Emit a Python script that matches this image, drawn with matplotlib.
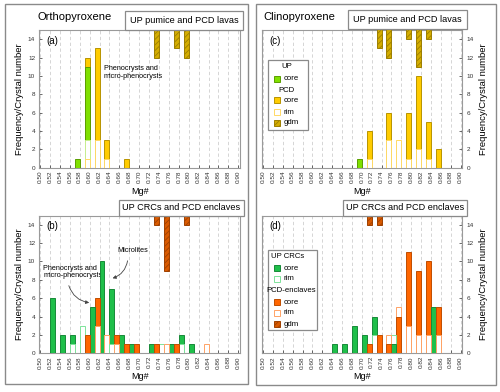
import matplotlib
matplotlib.use('Agg')
import matplotlib.pyplot as plt
from matplotlib.patches import Rectangle

plt.rcParams['font.family'] = ['Liberation Sans', 'DejaVu Sans']
plt.rcParams['hatch.linewidth'] = 0.6

# ---------------- data ----------------
bins = [0.50, 0.52, 0.54, 0.56, 0.58, 0.60, 0.62, 0.64, 0.66, 0.68,
        0.70, 0.72, 0.74, 0.76, 0.78, 0.80, 0.82, 0.84, 0.86, 0.88]
xtick_vals = [0.50, 0.52, 0.54, 0.56, 0.58, 0.60, 0.62, 0.64, 0.66, 0.68, 0.70,
              0.72, 0.74, 0.76, 0.78, 0.80, 0.82, 0.84, 0.86, 0.88, 0.90]
xtick_labels = ['0.50', '0.52', '0.54', '0.56', '0.58', '0.60', '0.62', '0.64', '0.66',
                '0.68', '0.70', '0.72', '0.74', '0.76', '0.78', '0.80', '0.82', '0.84',
                '0.86', '0.88', '0.90']
ytick_vals = [0, 2, 4, 6, 8, 10, 12, 14]

# (a) Orthopyroxene, UP pumice and PCD lavas
a_up_core  = [0, 0, 0, 1, 11, 0, 0, 0, 0, 0, 0, 0, 0, 0, 0, 0, 0, 0, 0, 0]
a_up_rim   = [0, 0, 0, 0, 3, 0, 0, 0, 0, 0, 0, 0, 0, 0, 0, 0, 0, 0, 0, 0]
a_pcd_core = [0, 0, 0, 0, 12, 13, 3, 0, 1, 0, 0, 0, 0, 0, 0, 0, 0, 0, 0, 0]
a_pcd_rim  = [0, 0, 0, 0, 1, 3, 1, 0, 0, 0, 0, 0, 0, 0, 0, 0, 0, 0, 0, 0]
a_pcd_gdm  = [0, 0, 0, 0, 0, 0, 0, 0, 0, 0, 0, 3, 0, 2, 3, 0, 0, 0, 0, 0]

# (c) Clinopyroxene, UP pumice and PCD lavas
c_up_core  = [0, 0, 0, 0, 0, 0, 0, 0, 0, 1, 0, 0, 0, 0, 0, 0, 0, 0, 0, 0]
c_pcd_core = [0, 0, 0, 0, 0, 0, 0, 0, 0, 0, 4, 0, 6, 0, 6, 10, 5, 2, 0, 0]
c_pcd_rim  = [0, 0, 0, 0, 0, 0, 0, 0, 0, 0, 1, 0, 3, 3, 1, 2, 1, 0, 0, 0]
c_pcd_gdm  = [0, 0, 0, 0, 0, 0, 0, 0, 0, 0, 0, 2, 3, 0, 1, 4, 1, 0, 0, 0]

# (b) Orthopyroxene, UP CRCs and PCD enclaves
b_up_core  = [0, 6, 2, 2, 0, 5, 10, 7, 2, 1, 0, 1, 0, 1, 2, 1, 0, 0, 0, 0]
b_up_rim   = [0, 0, 0, 1, 3, 0, 0, 1, 0, 0, 0, 0, 1, 0, 1, 0, 0, 0, 0, 0]
b_pcd_core = [0, 0, 0, 0, 2, 6, 0, 2, 1, 1, 0, 1, 0, 1, 0, 0, 0, 0, 0, 0]
b_pcd_rim  = [0, 0, 0, 0, 0, 3, 2, 1, 0, 0, 0, 0, 1, 0, 0, 0, 1, 0, 0, 0]
b_pcd_gdm  = [0, 0, 0, 0, 0, 0, 0, 0, 0, 0, 0, 1, 6, 0, 1, 0, 0, 0, 0, 0]

# (d) Clinopyroxene, UP CRCs and PCD enclaves
d_up_core  = [0, 0, 0, 0, 0, 0, 0, 1, 1, 3, 2, 4, 0, 1, 0, 0, 0, 5, 0, 0]
d_up_rim   = [0, 0, 0, 0, 0, 0, 0, 0, 0, 0, 0, 2, 0, 2, 0, 0, 0, 0, 0, 0]
d_pcd_core = [0, 0, 0, 0, 0, 0, 0, 0, 0, 0, 1, 2, 1, 4, 11, 9, 10, 5, 0, 0]
d_pcd_rim  = [0, 0, 0, 0, 0, 0, 0, 0, 0, 0, 0, 0, 2, 5, 3, 2, 2, 2, 0, 0]
d_pcd_gdm  = [0, 0, 0, 0, 0, 0, 0, 0, 0, 0, 1, 1, 0, 0, 0, 0, 0, 0, 0, 0]

# ---------------- styles ----------------
LIME = '#80e000'
GOLD = '#ffcc00'
GOLD_RIM = '#ffd966'
GOLD_GDM = '#d4ad00'
GREEN = '#1fbf4a'
GREEN_RIM = '#7ee39a'
ORANGE = '#ff6600'
ORANGE_RIM = '#ffa366'
ORANGE_GDM = '#d95a00'
YMAX = 15
W, H = 500, 392

fig = plt.figure(figsize=(5.0, 3.92), dpi=100)


def fx(px):
    return px / W


def fy(py):
    return 1 - py / H


def add_axes(x0, x1, ytop, ybot):
    return fig.add_axes([fx(x0), fy(ybot), fx(x1) - fx(x0), fy(ytop) - fy(ybot)])


def draw(ax, offset, vals, face, edge, hatch=None):
    xs = [b + offset for b, v in zip(bins, vals) if v > 0]
    vs = [v for v in vals if v > 0]
    if not xs:
        return
    bars = ax.bar(xs, vs, width=0.01, color=face, edgecolor=edge, linewidth=0.7,
                  hatch=hatch)
    for p, v in zip(bars, vs):
        p.set_zorder(3 + (20 - v) * 0.01)


def draw_gdm(ax, offset, vals, face, edge):
    xs = [b + offset for b, v in zip(bins, vals) if v > 0]
    vs = [v for v in vals if v > 0]
    bars = ax.bar(xs, [v + 1 for v in vs], bottom=[YMAX - v for v in vs], width=0.01,
                  color=face, edgecolor=edge, linewidth=0.7, hatch='//////')
    for p in bars:
        p.set_zorder(3)


def style(ax, right=False):
    ax.set_xlim(0.4985, 0.9035)
    ax.set_ylim(0, YMAX)
    ax.set_xticks(xtick_vals)
    ax.set_xticklabels(xtick_labels, rotation=90, fontsize=4.6)
    ax.set_yticks(ytick_vals)
    ax.tick_params(axis='y', labelsize=4.6, direction='in', length=2, width=0.5,
                   colors='#333333', pad=3)
    ax.tick_params(axis='x', direction='in', length=2, width=0.5, colors='#333333', pad=2)
    ax.grid(axis='x', linestyle=(0, (4, 3)), color='#cfcfcf', linewidth=0.6)
    ax.set_axisbelow(True)
    for s in ax.spines.values():
        s.set_color('#9a9a9a')
        s.set_linewidth(0.8)
    ax.set_xlabel('Mg#', fontsize=6.5, labelpad=2.5)
    if right:
        ax.yaxis.tick_right()
        ax.yaxis.set_label_position('right')
        ax.set_ylabel('Frequency/Crystal number', fontsize=6.8, labelpad=4)
    else:
        ax.set_ylabel('Frequency/Crystal number', fontsize=6.8, labelpad=3)


# outer frames
for (x0, y0, x1, y1) in [(5, 4, 248, 384), (256, 4, 496, 385)]:
    fig.add_artist(Rectangle((fx(x0), fy(y1)), fx(x1) - fx(x0), fy(y0) - fy(y1),
                             transform=fig.transFigure, fill=False,
                             edgecolor='#8a8a8a', linewidth=1.0))

ax_a = add_axes(39.3, 240, 30.1, 167.7)
ax_b = add_axes(39.3, 240, 215.5, 353.3)
ax_c = add_axes(262.3, 462.3, 30.1, 167.7)
ax_d = add_axes(262.3, 462.3, 215.5, 353.3)

# panel a
draw(ax_a, 0.015, a_pcd_core, GOLD, '#b89400')
draw(ax_a, 0.015, a_up_core, LIME, '#5a9e00')
draw(ax_a, 0.015, a_up_rim, 'white', '#c8ee90')
draw(ax_a, 0.015, a_pcd_rim, 'white', GOLD_RIM)
draw_gdm(ax_a, 0.015, a_pcd_gdm, GOLD_GDM, '#9c7e00')
style(ax_a)

# panel c
draw(ax_c, 0.015, c_pcd_core, GOLD, '#b89400')
draw(ax_c, 0.015, c_up_core, LIME, '#5a9e00')
draw(ax_c, 0.015, c_pcd_rim, 'white', GOLD_RIM)
draw_gdm(ax_c, 0.015, c_pcd_gdm, GOLD_GDM, '#9c7e00')
style(ax_c, right=True)

# panel b
draw(ax_b, 0.005, b_up_core, GREEN, '#178a38')
draw(ax_b, 0.005, b_up_rim, 'white', GREEN_RIM)
draw(ax_b, 0.015, b_pcd_core, ORANGE, '#c04d00')
draw(ax_b, 0.015, b_pcd_rim, 'white', ORANGE_RIM)
draw_gdm(ax_b, 0.015, b_pcd_gdm, ORANGE_GDM, '#9e4000')
style(ax_b)

# panel d
draw(ax_d, 0.005, d_up_core, GREEN, '#178a38')
draw(ax_d, 0.005, d_up_rim, 'white', GREEN_RIM)
draw(ax_d, 0.015, d_pcd_core, ORANGE, '#c04d00')
draw(ax_d, 0.015, d_pcd_rim, 'white', ORANGE_RIM)
draw_gdm(ax_d, 0.015, d_pcd_gdm, ORANGE_GDM, '#9e4000')
style(ax_d, right=True)

# panel letters
for ax, lab in [(ax_a, '(a)'), (ax_b, '(b)'), (ax_c, '(c)'), (ax_d, '(d)')]:
    ax.text(0.035, 0.96, lab, transform=ax.transAxes, ha='left', va='top', fontsize=7)

# titles and boxed labels
fig.text(fx(38), fy(17), 'Orthopyroxene', fontsize=8, ha='left', va='center')
fig.text(fx(263), fy(17), 'Clinopyroxene', fontsize=8, ha='left', va='center')
box_top = dict(boxstyle='square,pad=0.55', facecolor='white', edgecolor='#8a8a8a', linewidth=0.9)
box_bot = dict(boxstyle='square,pad=0.35', facecolor='white', edgecolor='#8a8a8a', linewidth=0.9)
fig.text(fx(184), fy(20.5), 'UP pumice and PCD lavas', fontsize=6.6, ha='center', va='center', bbox=box_top)
fig.text(fx(407.5), fy(19.5), 'UP pumice and PCD lavas', fontsize=6.6, ha='center', va='center', bbox=box_top)
fig.text(fx(181.5), fy(208), 'UP CRCs and PCD enclaves', fontsize=6.6, ha='center', va='center', bbox=box_bot)
fig.text(fx(405), fy(208), 'UP CRCs and PCD enclaves', fontsize=6.6, ha='center', va='center', bbox=box_bot)

# annotations
ax_a.text(0.629, 10.4, 'Phenocrysts and\nmicro-phenocrysts', fontsize=5.2, ha='left', va='center',
          linespacing=1.1)
ax_b.text(0.6552, 11.24, 'Microlites', fontsize=5.2, ha='left', va='center')
ax_b.annotate('', xy=(0.641, 8.08), xytext=(0.6774, 10.37),
              arrowprops=dict(arrowstyle='-|>', color='#444444', lw=0.6,
                              connectionstyle='arc3,rad=-0.35', mutation_scale=5))
ax_b.text(0.506, 8.85, 'Phenocrysts and\nmicro-phenocrysts', fontsize=5.2, ha='left', va='center',
          linespacing=1.1)
ax_b.annotate('', xy=(0.6048, 5.47), xytext=(0.5564, 7.65),
              arrowprops=dict(arrowstyle='-|>', color='#444444', lw=0.6,
                              connectionstyle='arc3,rad=0.35', mutation_scale=5))


# manual legends
def legend(box_px, rows):
    x0, y0, x1, y1 = box_px
    fig.add_artist(Rectangle((fx(x0), fy(y1)), fx(x1) - fx(x0), fy(y0) - fy(y1),
                             transform=fig.transFigure, facecolor='white',
                             edgecolor='#8a8a8a', linewidth=0.9, zorder=10))
    for kind, label, yy, face, edge, hatch, hx in rows:
        if kind == 'h':
            fig.text(fx(hx), fy(yy), label, fontsize=5.6, ha='center', va='center', zorder=11)
        else:
            fig.add_artist(Rectangle((fx(274.3), fy(yy + 3.4)), fx(5.5), 6.8 / H,
                                     transform=fig.transFigure, facecolor=face,
                                     edgecolor=edge, linewidth=0.7, hatch=hatch, zorder=11))
            fig.text(fx(283.3), fy(yy), label, fontsize=5.6, ha='left', va='center', zorder=11)


legend((268.3, 60, 308.3, 130), [
    ('h', 'UP', 67, None, None, None, 286.5),
    ('p', 'core', 79, LIME, '#5a9e00', None, 0),
    ('h', 'PCD', 90, None, None, None, 286.5),
    ('p', 'core', 100, GOLD, '#b89400', None, 0),
    ('p', 'rim', 112, 'white', GOLD_RIM, None, 0),
    ('p', 'gdm', 123, GOLD_GDM, '#9c7e00', '//////', 0),
])
legend((268.3, 250, 316.7, 330), [
    ('h', 'UP CRCs', 256, None, None, None, 288),
    ('p', 'core', 268, GREEN, '#178a38', None, 0),
    ('p', 'rim', 279, 'white', GREEN_RIM, None, 0),
    ('h', 'PCD-enclaves', 291, None, None, None, 291.5),
    ('p', 'core', 302, ORANGE, '#c04d00', None, 0),
    ('p', 'rim', 313, 'white', ORANGE_RIM, None, 0),
    ('p', 'gdm', 324, ORANGE_GDM, '#9e4000', '//////', 0),
])

fig.savefig('out.png', dpi=100)
